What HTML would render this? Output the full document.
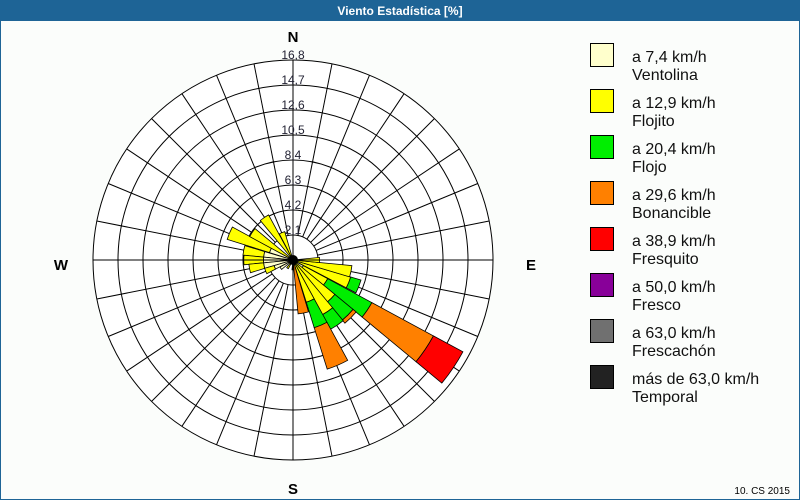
<!DOCTYPE html>
<html><head><meta charset="utf-8"><style>
body{margin:0;width:800px;height:500px;overflow:hidden;background:#fff;font-family:"Liberation Sans",sans-serif}
#wrap{position:absolute;left:0;top:0;width:798px;height:498px;border:1px solid #1e6496;background:#fbfdfb}
#title{position:absolute;left:0;top:0;width:798px;height:20px;background:#1e6496;color:#fff;font-size:12px;font-weight:bold;text-align:center;line-height:20px}
</style></head><body>
<div id="wrap"><div id="title">Viento Estadística [%]</div></div>
<svg id="s" width="800" height="500" style="position:absolute;left:0;top:0" xmlns="http://www.w3.org/2000/svg"></svg>
<script>
const cx=293,cy=260,ring=25,R=ring*8,k=200/203;
let h='';
const Y='#ffff00',LY='#ffffcc',G='#00ee00',O='#ff8000',RD='#ff0000';
const bars=[
[34,[[LY,12],[Y,40],[G,91],[O,162],[RD,196]]],
[22,[[Y,61],[G,72]]],
[11,[[Y,60]]],
[0,[[Y,27]]],
[45,[[Y,55],[G,79],[O,83]]],
[56,[[Y,63],[G,80]]],
[67,[[Y,45],[G,72],[O,116]]],
[79,[[O,55]]],
[90,[[O,10]]],
[203,[[LY,25],[Y,70]]],
[214,[[Y,50]]],
[236,[[Y,52]]],
[248,[[Y,30]]],
[191,[[LY,30],[Y,51]]],
[180,[[LY,30],[Y,50]]],
[169,[[LY,30],[Y,45]]],
[158,[[LY,20],[Y,30]]],
[146,[[LY,15]]],
[124,[[Y,10]]]
];
function pt(r,a){a=a*Math.PI/180;return [(cx+r*Math.cos(a)).toFixed(1),(cy+r*Math.sin(a)).toFixed(1)]}
for(let i=8;i>=1;i--)h+=`<circle cx="${cx}" cy="${cy}" r="${i*ring}" fill="${i==8||i==1?'#fff':'none'}" stroke="#000" stroke-width="1"/>`;
for(let a=0;a<360;a+=11.25){const p=pt(ring,a),q=pt(R,a);h+=`<line x1="${p[0]}" y1="${p[1]}" x2="${q[0]}" y2="${q[1]}" stroke="#000"/>`}
for(const [t,segs] of bars){let r0=0;for(const [c,rr] of segs){const r=rr*k;const a=t-5.6,b=t+5.6;const p1=pt(r0,a),p2=pt(r,a),p3=pt(r,b),p4=pt(r0,b);
h+=`<path d="M${p1}L${p2}A${r},${r} 0 0 1 ${p3}L${p4}${r0?`A${r0},${r0} 0 0 0 ${p1}`:''}Z" fill="${c}" stroke="#000" stroke-width="0.8"/>`;r0=r}}
h+=`<line x1="${cx-R}" y1="${cy}" x2="${cx+R}" y2="${cy}" stroke="#000"/><line x1="${cx}" y1="${cy-R}" x2="${cx}" y2="${cy+R}" stroke="#000"/>`;
h+=`<circle cx="${cx}" cy="${cy}" r="5" fill="#000"/>`;
const labs=['2,1','4,2','6,3','8,4','10,5','12,6','14,7','16,8'];
labs.forEach((l,i)=>{h+=`<text x="${cx}" y="${cy-(i+1)*ring-1}" font-size="12" text-anchor="middle" fill="#223" font-family="Liberation Sans">${l}</text>`});
h+=`<text x="${cx}" y="42" font-size="15" font-weight="bold" text-anchor="middle" font-family="Liberation Sans">N</text>`;
h+=`<text x="${cx}" y="494" font-size="15" font-weight="bold" text-anchor="middle" font-family="Liberation Sans">S</text>`;
h+=`<text x="61" y="270" font-size="15" font-weight="bold" text-anchor="middle" font-family="Liberation Sans">W</text>`;
h+=`<text x="531" y="270" font-size="15" font-weight="bold" text-anchor="middle" font-family="Liberation Sans">E</text>`;
const leg=[['#ffffcc','a 7,4 km/h','Ventolina'],['#ffff00','a 12,9 km/h','Flojito'],['#00ee00','a 20,4 km/h','Flojo'],['#ff8000','a 29,6 km/h','Bonancible'],['#ff0000','a 38,9 km/h','Fresquito'],['#880099','a 50,0 km/h','Fresco'],['#707070','a 63,0 km/h','Frescachón'],['#222222','más de 63,0 km/h','Temporal']];
leg.forEach((l,i)=>{const y=43+i*46;h+=`<rect x="590.5" y="${y+.5}" width="23" height="23" fill="${l[0]}" stroke="#000"/>`;
h+=`<text x="632" y="${y+19}" font-size="16" fill="#111" font-family="Liberation Sans">${l[1]}</text><text x="632" y="${y+37}" font-size="16" fill="#111" font-family="Liberation Sans">${l[2]}</text>`});
h+=`<text x="790" y="494" font-size="10" text-anchor="end" font-family="Liberation Sans">10. CS 2015</text>`;
document.getElementById('s').innerHTML=h;
</script>
</body></html>
